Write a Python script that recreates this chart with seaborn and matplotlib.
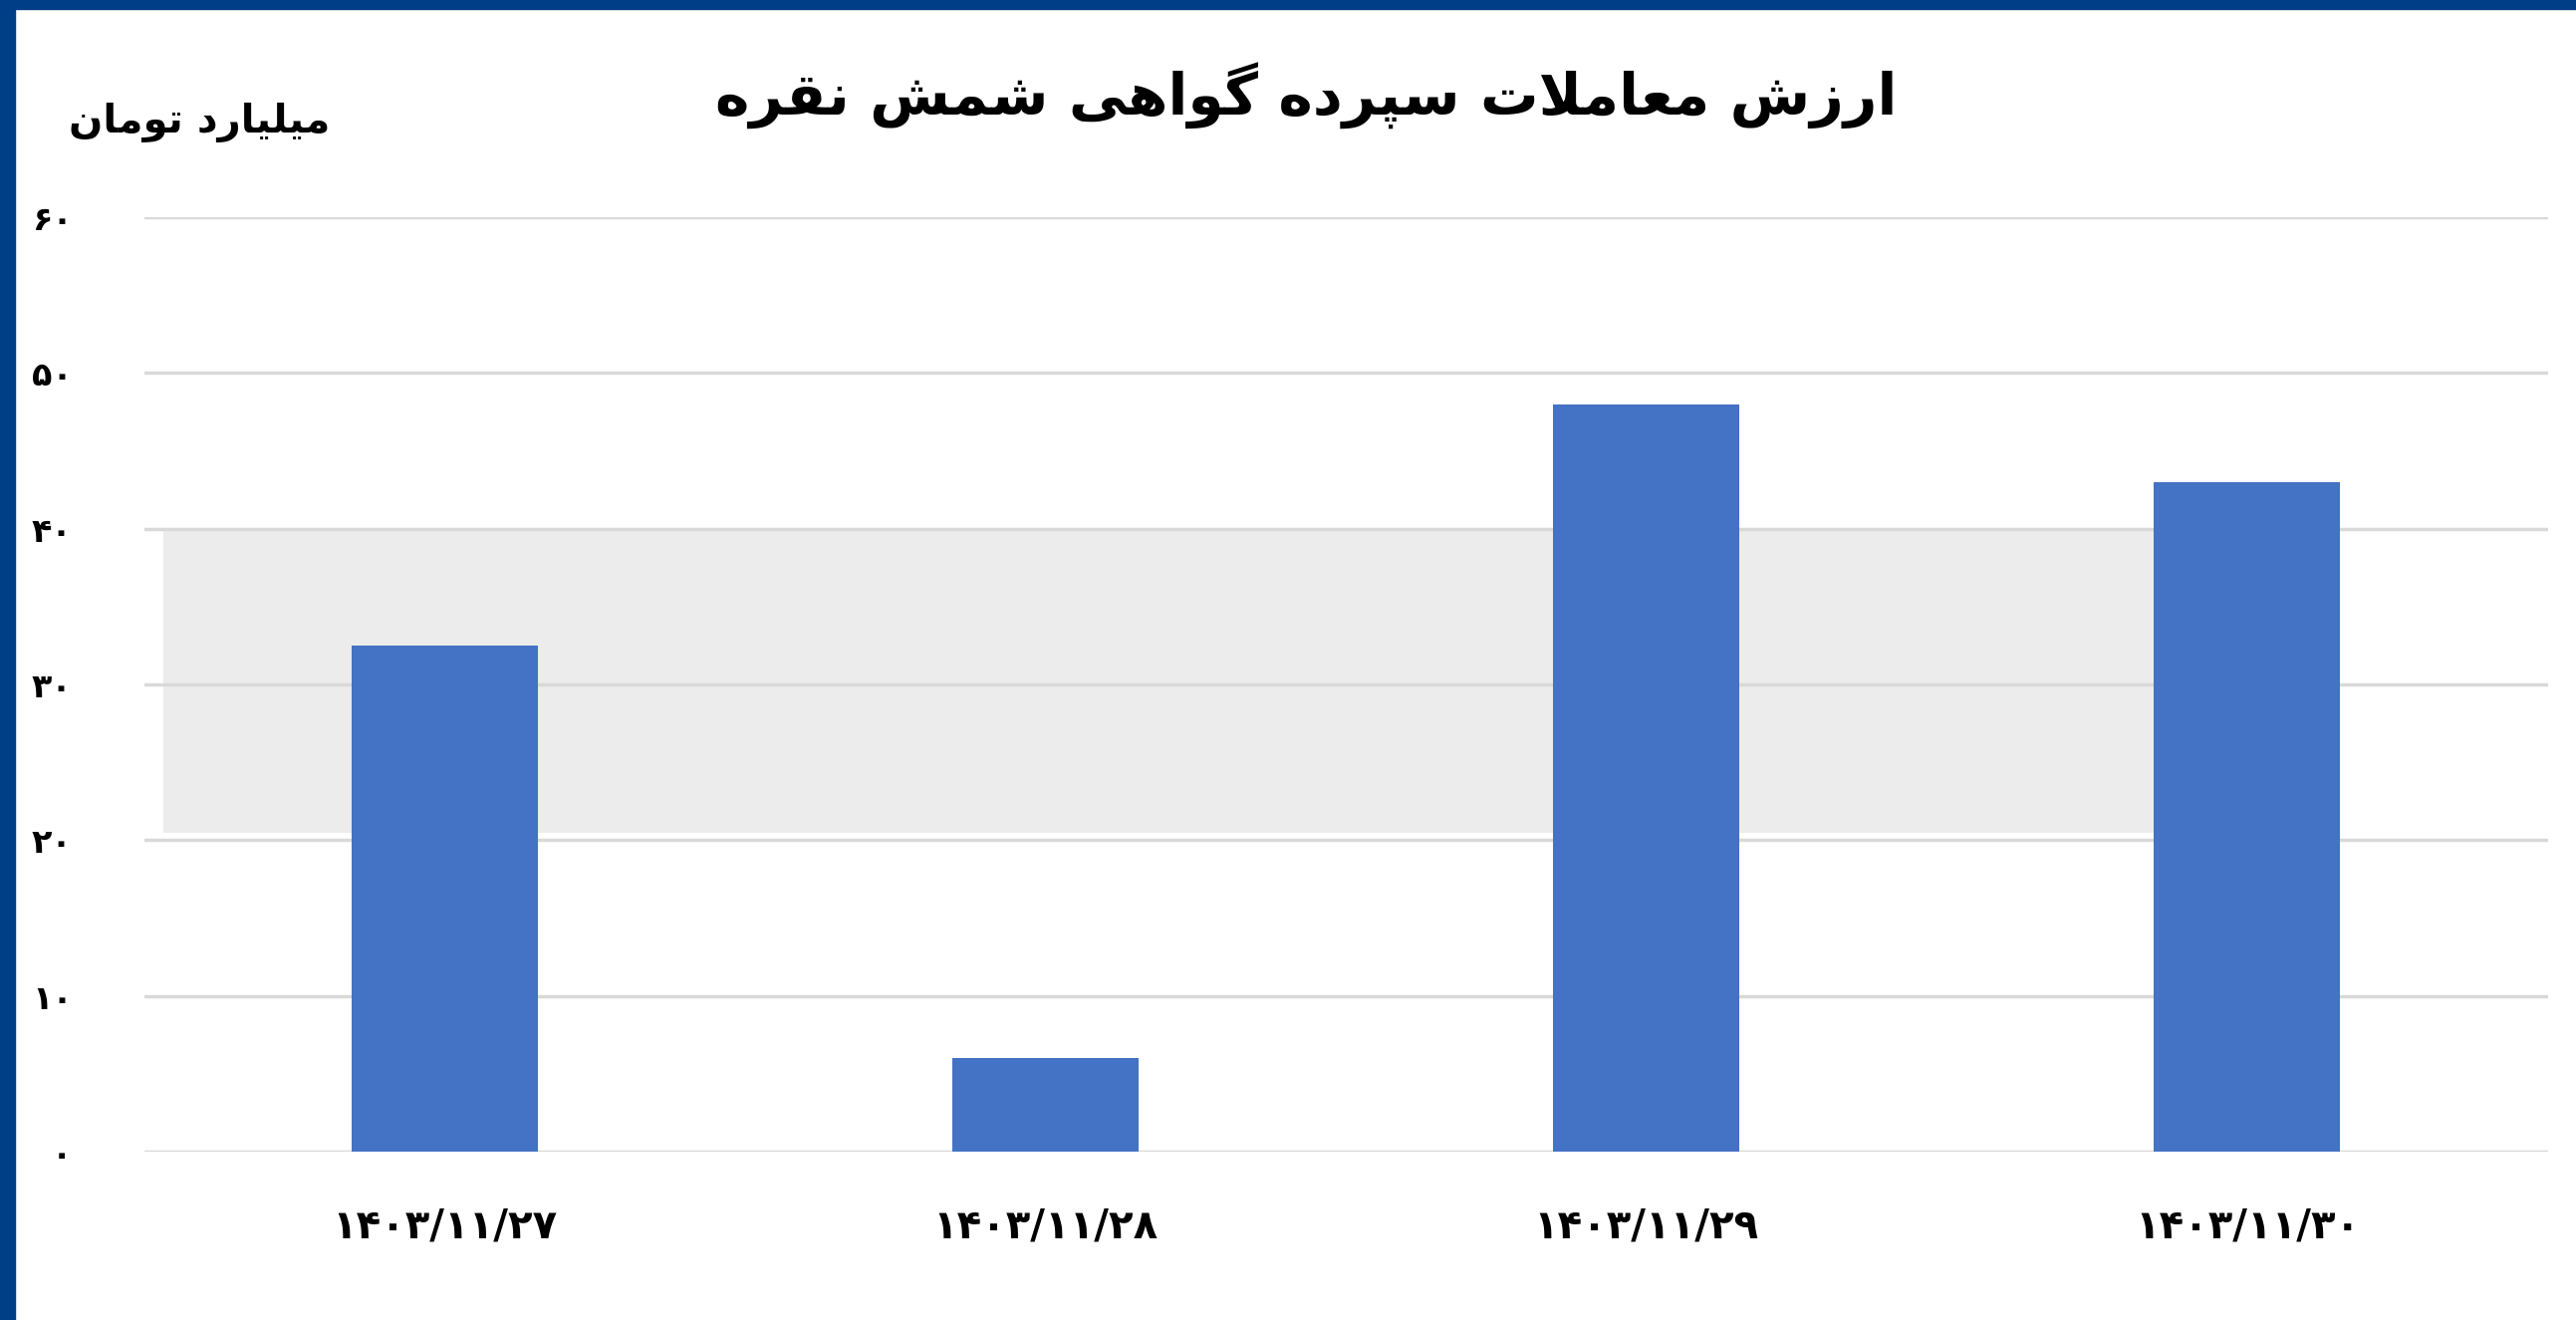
import seaborn as sns
import matplotlib.pyplot as plt
import pandas as pd
from matplotlib.patches import Rectangle

# Datos del gráfico
fechas = ['۱۴۰۳/۱۱/۲۷', '۱۴۰۳/۱۱/۲۸', '۱۴۰۳/۱۱/۲۹', '۱۴۰۳/۱۱/۳۰']
valores = [32.5, 6.0, 48.0, 43.0]
y_ticks = [0, 10, 20, 30, 40, 50, 60]
y_etiquetas = ['۰', '۱۰', '۲۰', '۳۰', '۴۰', '۵۰', '۶۰']
titulo = 'ارزش معاملات سپرده گواهی شمش نقره'
unidad = 'میلیارد تومان'

# Formas contextuales (aislada, final, inicial, media)
formas = {
    'ا': ('\uFE8D', '\uFE8E'),
    'د': ('\uFEA9', '\uFEAA'),
    'ر': ('\uFEAD', '\uFEAE'),
    'ز': ('\uFEAF', '\uFEB0'),
    'و': ('\uFEED', '\uFEEE'),
    'ت': ('\uFE95', '\uFE96', '\uFE97', '\uFE98'),
    'س': ('\uFEB1', '\uFEB2', '\uFEB3', '\uFEB4'),
    'ش': ('\uFEB5', '\uFEB6', '\uFEB7', '\uFEB8'),
    'ع': ('\uFEC9', '\uFECA', '\uFECB', '\uFECC'),
    'ق': ('\uFED5', '\uFED6', '\uFED7', '\uFED8'),
    'ل': ('\uFEDD', '\uFEDE', '\uFEDF', '\uFEE0'),
    'م': ('\uFEE1', '\uFEE2', '\uFEE3', '\uFEE4'),
    'ن': ('\uFEE5', '\uFEE6', '\uFEE7', '\uFEE8'),
    'ه': ('\uFEE9', '\uFEEA', '\uFEEB', '\uFEEC'),
    'پ': ('\uFB56', '\uFB57', '\uFB58', '\uFB59'),
    'گ': ('\uFB92', '\uFB93', '\uFB94', '\uFB95'),
    'ی': ('\uFBFC', '\uFBFD', '\uFBFE', '\uFBFF'),
}


def persa(texto):
    # Unir las letras y ponerlas de derecha a izquierda
    salida = []
    i = 0
    while i < len(texto):
        c = texto[i]
        if c not in formas:
            salida.append(c)
            i += 1
            continue
        previa = texto[i - 1] if i > 0 else ''
        une_antes = previa in formas and len(formas[previa]) == 4
        if c == 'ل' and i + 1 < len(texto) and texto[i + 1] == 'ا':
            salida.append('\uFEFC' if une_antes else '\uFEFB')
            i += 2
            continue
        siguiente = texto[i + 1] if i + 1 < len(texto) else ''
        une_despues = len(formas[c]) == 4 and siguiente in formas
        if une_antes and une_despues:
            salida.append(formas[c][3])
        elif une_despues:
            salida.append(formas[c][2])
        elif une_antes:
            salida.append(formas[c][1])
        else:
            salida.append(formas[c][0])
        i += 1
    return ''.join(salida)[::-1]


datos = pd.DataFrame({'fecha': fechas, 'valor': valores})

sns.set_theme(style='white')
plt.rcParams['font.family'] = ['DejaVu Sans']
plt.rcParams['text.color'] = 'black'

fig = plt.figure(figsize=(25.86, 13.25), dpi=100)
ax = fig.add_axes([0.056, 0.1275, 0.933, 0.708])

# Banda gris clara del fondo (marca de agua)
ax.axhspan(20.5, 39.9, xmin=0.008, xmax=0.877, color='#ececec', lw=0, zorder=1)

sns.barplot(data=datos, x='fecha', y='valor', color='#4472C4',
            saturation=1, width=0.31, linewidth=0, ax=ax, zorder=3)

ax.set_xlim(-0.5, 3.5)
ax.set_ylim(0, 60)
ax.set_yticks(y_ticks)
ax.set_yticklabels(y_etiquetas, fontsize=24, fontweight='bold', color='black')
ax.set_xticks(range(len(fechas)))
ax.set_xticklabels(fechas, fontsize=29, fontweight='bold', color='black')
ax.tick_params(axis='y', length=0, pad=52)
ax.tick_params(axis='x', length=0, pad=40)
ax.grid(axis='y', color='#d9d9d9', linewidth=2.5, zorder=2)
ax.set_axisbelow(False)
ax.set_xlabel('')
ax.set_ylabel('')
sns.despine(ax=ax, left=True, bottom=True, right=True, top=True)

# Títulos
fig.text(0.507, 0.927, persa(titulo), ha='center', va='center',
         fontsize=42, fontweight='bold', color='black')
fig.text(0.128, 0.907, persa(unidad), ha='right', va='center',
         fontsize=29, fontweight='bold', color='black')

# Marco azul arriba y a la izquierda
fig.patches.append(Rectangle((0, 1 - 9 / 1325), 1, 9 / 1325,
                             transform=fig.transFigure, color='#003F87'))
fig.patches.append(Rectangle((0, 0), 15 / 2586, 1,
                             transform=fig.transFigure, color='#003F87'))

plt.savefig('out.png', dpi=100)
